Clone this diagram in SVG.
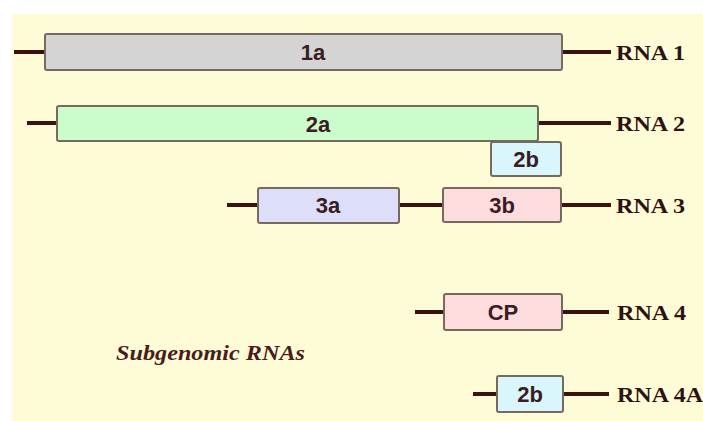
<svg xmlns="http://www.w3.org/2000/svg" width="703" height="421" viewBox="0 0 703 421">
  <style>
    .rna { stroke: #3a1212; stroke-width: 4; fill: none; }
    .gene { stroke: #776860; stroke-width: 2; }
    .glabel { font-family: "Liberation Sans", Arial, sans-serif; font-weight: bold; font-size: 22px; fill: #3a1c22; text-anchor: middle; }
    .rlabel { font-family: "Liberation Serif", "Times New Roman", serif; font-weight: bold; font-size: 21px; fill: #2e1212; }
    .note { font-family: "Liberation Serif", "Times New Roman", serif; font-weight: bold; font-style: italic; font-size: 20px; fill: #4a1c1c; }
  </style>
  <rect x="0" y="0" width="703" height="421" fill="#ffffff"/>
  <rect x="12" y="14" width="691" height="407" fill="#fefcd6"/>

  <!-- RNA strands -->
  <g id="connectors">
    <line class="rna" x1="14" y1="52" x2="45" y2="52"/>
    <line class="rna" x1="562" y1="52" x2="611" y2="52"/>
    <line class="rna" x1="27" y1="123" x2="57" y2="123"/>
    <line class="rna" x1="538" y1="123" x2="611" y2="123"/>
    <line class="rna" x1="227" y1="205" x2="258" y2="205"/>
    <line class="rna" x1="399" y1="205" x2="443" y2="205"/>
    <line class="rna" x1="561" y1="205" x2="611" y2="205"/>
    <line class="rna" x1="415" y1="312" x2="444" y2="312"/>
    <line class="rna" x1="562" y1="312" x2="609" y2="312"/>
    <line class="rna" x1="473" y1="394" x2="497" y2="394"/>
    <line class="rna" x1="563" y1="394" x2="609" y2="394"/>
  </g>

  <g id="gene-1a">
    <rect class="gene" x="45" y="34" width="517" height="36" rx="2" fill="#d4d4d4"/>
    <text class="glabel" x="313" y="60">1a</text>
  </g>
  <g id="gene-2a">
    <rect class="gene" x="57" y="106" width="481" height="35" rx="2" fill="#ccfccc"/>
    <text class="glabel" x="318" y="132">2a</text>
  </g>
  <g id="gene-2b">
    <rect class="gene" x="491" y="142" width="70" height="34" rx="2" fill="#d8f6fc"/>
    <text class="glabel" x="526" y="167">2b</text>
  </g>
  <g id="gene-3a">
    <rect class="gene" x="258" y="188" width="141" height="35" rx="2" fill="#dcdefa"/>
    <text class="glabel" x="328" y="213">3a</text>
  </g>
  <g id="gene-3b">
    <rect class="gene" x="443" y="188" width="118" height="34" rx="2" fill="#fcdcdc"/>
    <text class="glabel" x="502" y="213">3b</text>
  </g>
  <g id="gene-cp">
    <rect class="gene" x="444" y="294" width="118" height="36" rx="2" fill="#fcdcdc"/>
    <text class="glabel" x="503" y="320">CP</text>
  </g>
  <g id="gene-2b-sub">
    <rect class="gene" x="497" y="376" width="66" height="36" rx="2" fill="#d8f6fc"/>
    <text class="glabel" x="530" y="402">2b</text>
  </g>

  <g id="labels">
    <text class="rlabel" x="616" y="60" textLength="69" lengthAdjust="spacingAndGlyphs">RNA 1</text>
    <text class="rlabel" x="616" y="131" textLength="69" lengthAdjust="spacingAndGlyphs">RNA 2</text>
    <text class="rlabel" x="616" y="213" textLength="69" lengthAdjust="spacingAndGlyphs">RNA 3</text>
    <text class="rlabel" x="617" y="320" textLength="69" lengthAdjust="spacingAndGlyphs">RNA 4</text>
    <text class="rlabel" x="617" y="402" textLength="86" lengthAdjust="spacingAndGlyphs">RNA 4A</text>
    <text class="note" x="116" y="360" textLength="189" lengthAdjust="spacingAndGlyphs">Subgenomic RNAs</text>
  </g>
</svg>
